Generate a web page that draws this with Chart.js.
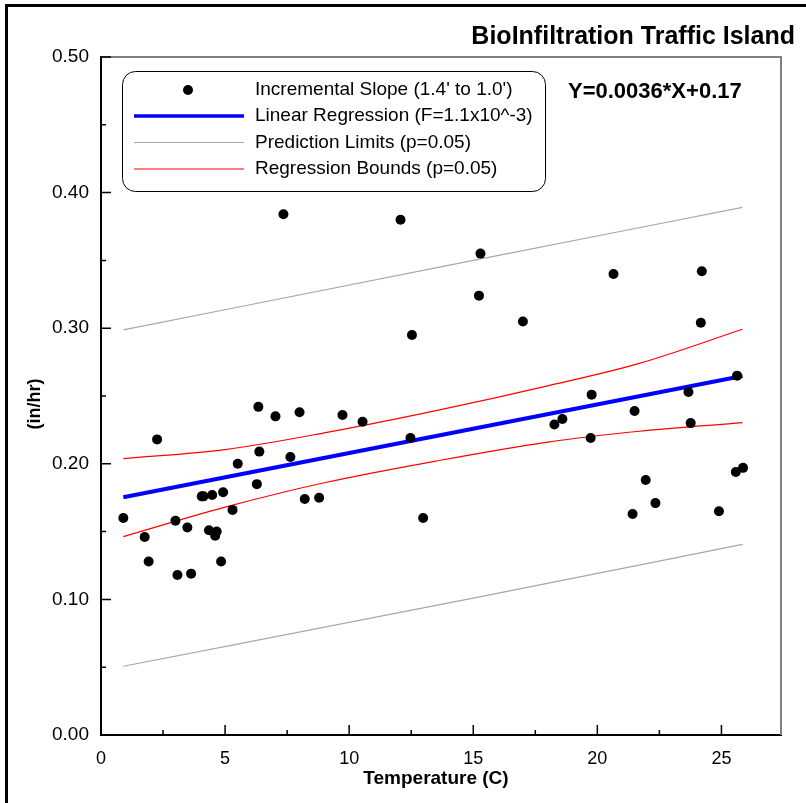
<!DOCTYPE html>
<html>
<head>
<meta charset="utf-8">
<script src="https://cdn.jsdelivr.net/npm/chart.js@4.4.0/dist/chart.umd.min.js"></script>
<style>
  html, body { margin: 0; padding: 0; background: #fff; }
  #wrap { width: 806px; height: 803px; }
</style>
</head>
<body>
<div id="wrap"><canvas id="chart" width="806" height="803"></canvas></div>
<script>
// measured points: temperature (C) vs incremental slope (in/hr)
const tempC = [0.90, 1.76, 1.92, 2.26, 3.00, 3.08, 3.48, 3.63, 4.06, 4.13, 4.48, 4.35, 4.66, 4.60, 4.84,
  4.92, 5.30, 5.51, 6.28, 6.34, 6.38, 7.03, 7.35, 7.63, 8.00, 8.21, 8.79, 9.73, 10.54, 12.07, 12.47,
  12.53, 12.98, 15.23, 15.29, 17.00, 18.27, 18.59, 19.73, 19.77, 20.65, 21.42, 21.50, 21.95, 22.34,
  23.67, 23.76, 24.17, 24.21, 24.90, 25.58, 25.63, 25.87];
const rate = [0.160, 0.146, 0.128, 0.218, 0.158, 0.118, 0.153, 0.119, 0.176, 0.176, 0.177, 0.151, 0.150, 0.147, 0.128,
  0.179, 0.166, 0.200, 0.185, 0.242, 0.209, 0.235, 0.384, 0.205, 0.238, 0.174, 0.175, 0.236, 0.231, 0.380, 0.219,
  0.295, 0.160, 0.324, 0.355, 0.305, 0.229, 0.233, 0.219, 0.251, 0.340, 0.163, 0.239, 0.188, 0.171,
  0.253, 0.230, 0.304, 0.342, 0.165, 0.194, 0.265, 0.197];

// regression line end points
const regX = [0.9, 25.85];
const regY = [0.1753, 0.2647];

// regression bounds (red) read along x
const boundX = [0.9, 5, 9, 13.5, 18, 21.7, 25.85];
const boundUpper = [0.2038, 0.2105, 0.2228, 0.2392, 0.2575, 0.2741, 0.2992];
const boundLower = [0.1463, 0.1680, 0.1860, 0.2020, 0.2160, 0.2240, 0.2303];

// prediction limits (grey)
const predX = [0.9, 15, 25.85];
const predUpper = [0.2987, 0.3500, 0.3891];
const predLower = [0.0507, 0.1010, 0.1406];

const xTicks = [0, 5, 10, 15, 20, 25];
const xMinor = [2.5, 7.5, 12.5, 17.5, 22.5];
const yTicks = [0, 0.1, 0.2, 0.3, 0.4, 0.5];
const yMinor = [0.05, 0.15, 0.25, 0.35, 0.45];

const FONT = '"Liberation Sans", Arial, sans-serif';

function pts(xs, ys) {
  return xs.map((x, i) => ({ x, y: ys[i] }));
}

const decorPlugin = {
  id: 'decor',
  afterDraw(chart) {
    const { ctx, chartArea: a, scales: { x, y } } = chart;
    ctx.save();

    // outer frame (left + top)
    ctx.strokeStyle = '#000';
    ctx.lineWidth = 3;
    ctx.beginPath();
    ctx.moveTo(6.5, 803);
    ctx.lineTo(6.5, 5.5);
    ctx.lineTo(806, 5.5);
    ctx.stroke();

    // plot frame top / right
    ctx.strokeStyle = '#808080';
    ctx.lineWidth = 2;
    ctx.beginPath();
    ctx.moveTo(a.left, a.top);
    ctx.lineTo(a.right, a.top);
    ctx.lineTo(a.right, a.bottom);
    ctx.stroke();

    // inward ticks
    ctx.strokeStyle = '#000';
    ctx.lineWidth = 1.5;
    ctx.beginPath();
    xTicks.forEach(v => { const px = x.getPixelForValue(v); ctx.moveTo(px, a.bottom); ctx.lineTo(px, a.bottom - 10); });
    xMinor.forEach(v => { const px = x.getPixelForValue(v); ctx.moveTo(px, a.bottom); ctx.lineTo(px, a.bottom - 5); });
    yTicks.forEach(v => { const py = y.getPixelForValue(v); ctx.moveTo(a.left, py); ctx.lineTo(a.left + 10, py); });
    yMinor.forEach(v => { const py = y.getPixelForValue(v); ctx.moveTo(a.left, py); ctx.lineTo(a.left + 5, py); });
    ctx.stroke();

    ctx.fillStyle = '#000';
    ctx.textBaseline = 'middle';

    // title
    ctx.font = 'bold 25px ' + FONT;
    ctx.textAlign = 'right';
    ctx.fillText('BioInfiltration Traffic Island', 795, 37);

    // axis titles
    ctx.font = 'bold 19px ' + FONT;
    ctx.textAlign = 'center';
    ctx.fillText('Temperature (C)', 436, 779);
    ctx.save();
    ctx.translate(35, 404);
    ctx.rotate(-Math.PI / 2);
    ctx.font = 'bold 18px ' + FONT;
    ctx.fillText('(in/hr)', 0, 0);
    ctx.restore();

    // equation
    ctx.font = 'bold 22px ' + FONT;
    ctx.textAlign = 'left';
    ctx.fillText('Y=0.0036*X+0.17', 568, 92);

    // legend box
    ctx.strokeStyle = '#000';
    ctx.lineWidth = 1;
    ctx.beginPath();
    ctx.roundRect(122.5, 71.5, 423, 120, 13);
    ctx.stroke();

    const rows = [90, 116, 142.5, 169];
    ctx.beginPath();
    ctx.arc(188, rows[0], 5, 0, Math.PI * 2);
    ctx.fill();
    const lineKeys = [['#0000ff', 3.5], ['#a8a8a8', 1], ['#ff0000', 1]];
    lineKeys.forEach(([c, w], i) => {
      ctx.strokeStyle = c;
      ctx.lineWidth = w;
      ctx.beginPath();
      ctx.moveTo(134, rows[i + 1]);
      ctx.lineTo(244, rows[i + 1]);
      ctx.stroke();
    });
    ctx.font = '19px ' + FONT;
    const labels = ["Incremental Slope (1.4' to 1.0')", 'Linear Regression (F=1.1x10^-3)',
      'Prediction Limits (p=0.05)', 'Regression Bounds (p=0.05)'];
    labels.forEach((t, i) => ctx.fillText(t, 255, rows[i]));

    ctx.restore();
  }
};

new Chart(document.getElementById('chart'), {
  type: 'scatter',
  data: {
    datasets: [
      {
        label: 'Incremental Slope',
        data: pts(tempC, rate),
        backgroundColor: '#000',
        borderColor: '#000',
        pointRadius: 5,
        borderWidth: 0,
        showLine: false
      },
      {
        label: 'Linear Regression',
        data: pts(regX, regY),
        showLine: true,
        borderColor: '#0000ff',
        borderWidth: 4,
        pointRadius: 0
      },
      {
        label: 'Upper bound',
        data: pts(boundX, boundUpper),
        showLine: true,
        borderColor: '#ff0000',
        borderWidth: 1.2,
        pointRadius: 0,
        cubicInterpolationMode: 'monotone'
      },
      {
        label: 'Lower bound',
        data: pts(boundX, boundLower),
        showLine: true,
        borderColor: '#ff0000',
        borderWidth: 1.2,
        pointRadius: 0,
        cubicInterpolationMode: 'monotone'
      },
      {
        label: 'Upper prediction',
        data: pts(predX, predUpper),
        showLine: true,
        borderColor: '#a8a8a8',
        borderWidth: 1.2,
        pointRadius: 0,
        cubicInterpolationMode: 'monotone'
      },
      {
        label: 'Lower prediction',
        data: pts(predX, predLower),
        showLine: true,
        borderColor: '#a8a8a8',
        borderWidth: 1.2,
        pointRadius: 0,
        cubicInterpolationMode: 'monotone'
      }
    ]
  },
  options: {
    responsive: false,
    animation: false,
    layout: { padding: { top: 57, right: 25, left: 0, bottom: 0 } },
    plugins: {
      legend: { display: false },
      title: { display: false },
      tooltip: { enabled: false }
    },
    scales: {
      x: {
        type: 'linear',
        min: 0,
        max: 27.4,
        afterBuildTicks: s => { s.ticks = xTicks.map(v => ({ value: v })); },
        afterFit: s => { s.height = 68; },
        grid: { display: false, drawTicks: false },
        border: { display: true, color: '#000', width: 2 },
        ticks: { padding: 13, color: '#000', font: { family: FONT, size: 18 }, callback: v => String(v) }
      },
      y: {
        type: 'linear',
        min: 0,
        max: 0.5,
        afterBuildTicks: s => { s.ticks = yTicks.map(v => ({ value: v })); },
        afterFit: s => { s.width = 101; },
        grid: { display: false, drawTicks: false },
        border: { display: true, color: '#000', width: 2 },
        ticks: { padding: 12, color: '#000', font: { family: FONT, size: 19 }, callback: v => v.toFixed(2) }
      }
    }
  },
  plugins: [decorPlugin]
});
</script>
</body>
</html>
